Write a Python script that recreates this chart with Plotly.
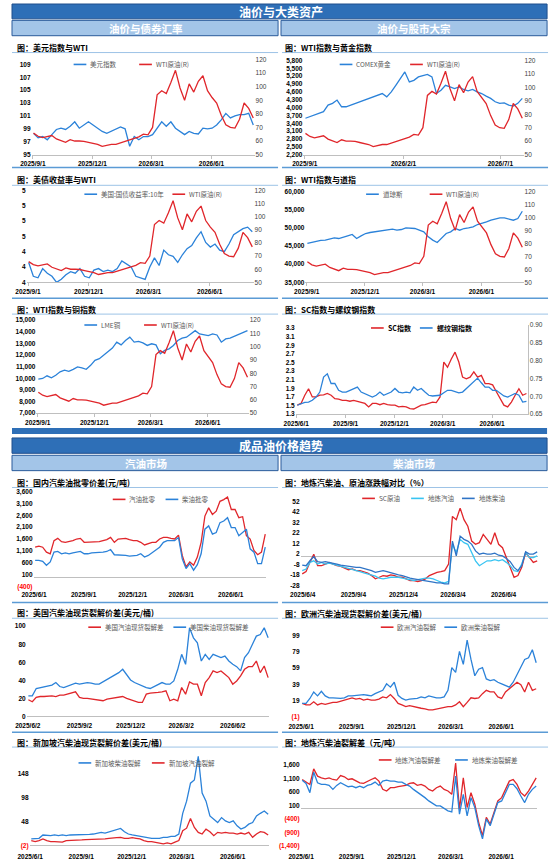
import pandas as pd
import plotly.graph_objects as go

W, H = 550, 866

RED = '#E0262B'
BLUE = '#2B82D9'
CYAN = '#38C4F2'
BLUE2 = '#2F74C6'
DARK = '#2E6FB7'
LIGHT = '#A3C5E8'
GREY = '#BFBFBF'
SEP = '#5B9BD5'

# 周度日期
dates_a = pd.date_range('2025-09-02', periods=49, freq='7D')   # 油价与大类资产
dates_b = pd.date_range('2025-06-03', periods=62, freq='7D')   # 成品油 / SC指数

# ---- 油价与大类资产 ----
wti = [65.8, 63.5, 62.5, 63.5, 64.0, 61.5, 60.0, 59.0, 61.0, 60.0, 60.0, 59.8, 59.0, 58.5, 57.5, 56.0,
       57.0, 57.5, 57.5, 58.5, 60.0, 61.0, 62.0, 63.0, 65.0, 64.5, 70.0, 94.0, 97.0, 95.0, 103.0, 112.0,
       99.0, 90.0, 102.0, 96.0, 104.0, 108.0, 97.0, 92.0, 88.0, 79.0, 72.0, 70.0, 69.5, 76.0, 88.0, 84.0, 77.0]
dxy = [98.3, 97.6, 97.8, 97.3, 98.1, 98.9, 99.1, 98.9, 99.4, 100.1, 99.1, 99.6, 100.1, 99.6, 99.1, 98.6,
       98.3, 98.6, 98.9, 99.3, 99.0, 96.3, 97.8, 97.3, 97.8, 97.8, 98.1, 99.1, 100.1, 99.4, 100.1, 99.1,
       98.6, 98.1, 98.6, 98.3, 98.2, 99.1, 99.0, 99.1, 99.6, 100.4, 101.4, 100.7, 101.0, 101.2, 101.2, 101.4, 99.6]
gold = [3590, 3650, 3715, 3780, 3840, 4095, 4160, 4285, 4030, 4030, 4095, 4160, 4220, 4285, 4350, 4410,
        4475, 4535, 4410, 4600, 4850, 5105, 5360, 4980, 5040, 5170, 5230, 5270, 5170, 4535, 4660, 4850,
        4790, 4725, 4790, 4690, 4640, 4690, 4600, 4535, 4435, 4350, 4220, 4160, 4180, 4095, 4055, 4160, 4350]
ust10y = [4.33, 4.24, 4.23, 4.29, 4.26, 4.24, 4.20, 4.22, 4.25, 4.27, 4.26, 4.29, 4.24, 4.23, 4.28, 4.29,
          4.27, 4.28, 4.27, 4.29, 4.34, 4.32, 4.30, 4.24, 4.23, 4.22, 4.30, 4.36, 4.31, 4.41, 4.38, 4.37,
          4.33, 4.38, 4.42, 4.44, 4.49, 4.53, 4.46, 4.43, 4.45, 4.41, 4.40, 4.45, 4.51, 4.53, 4.55, 4.56, 4.53]
dow = [45680, 45950, 46300, 46500, 46590, 46860, 47230, 47040, 47500, 47770, 48140, 47040, 47770, 48410,
       48690, 48870, 49050, 49320, 49320, 49600, 49320, 49510, 49960, 49960, 49780, 49320, 48870, 47500,
       46590, 45950, 47040, 48410, 48870, 49780, 49320, 49780, 49960, 50240, 50880, 51150, 51600, 52060,
       52340, 52700, 52700, 52340, 52060, 52520, 54520]
lme_cu = [9920, 9980, 10210, 10040, 10260, 10550, 10690, 10600, 10770, 10970, 10890, 10770, 11110, 11540,
          11680, 11970, 12250, 12590, 13100, 12870, 13240, 13530, 13100, 13160, 13040, 12820, 12960, 12870,
          12110, 12390, 12530, 12820, 13240, 13440, 13530, 13810, 14090, 13810, 13720, 13670, 13810, 13720,
          13100, 13380, 13440, 13610, 13720, 13890, 14090]
sc_idx = [1.51, 1.55, 1.74, 1.89, 1.70, 1.70, 1.74, 1.75, 1.78, 1.74, 1.66, 1.65, 1.62, 1.62, 1.60, 1.62,
          1.60, 1.58, 1.55, 1.47, 1.55, 1.55, 1.52, 1.55, 1.52, 1.51, 1.51, 1.47, 1.48, 1.47, 1.43, 1.42,
          1.47, 1.51, 1.52, 1.55, 1.58, 1.57, 1.70, 2.51, 2.39, 2.58, 2.74, 2.51, 2.16, 2.12, 2.16, 2.28,
          2.16, 2.20, 2.01, 2.01, 1.98, 1.82, 1.66, 1.51, 1.47, 1.58, 1.74, 1.89, 1.74, 1.78]
rebar_idx = [0.675, 0.680, 0.683, 0.684, 0.689, 0.698, 0.712, 0.754, 0.763, 0.736, 0.736, 0.717, 0.712,
             0.712, 0.717, 0.722, 0.726, 0.712, 0.708, 0.703, 0.698, 0.703, 0.712, 0.703, 0.708, 0.712,
             0.722, 0.712, 0.710, 0.712, 0.710, 0.726, 0.717, 0.722, 0.712, 0.703, 0.701, 0.703, 0.703,
             0.710, 0.717, 0.717, 0.714, 0.710, 0.712, 0.722, 0.731, 0.740, 0.751, 0.738, 0.726, 0.726,
             0.717, 0.717, 0.708, 0.701, 0.698, 0.703, 0.708, 0.703, 0.684, 0.686]

# ---- 成品油价格趋势 ----
gas_margin = [1255, 1296, 1255, 1048, 979, 1531, 1627, 1490, 1462, 1490, 1531, 1600, 1627, 1462, 1462, 1490,
              1490, 1490, 1531, 1572, 1669, 1462, 1600, 1627, 1627, 1572, 1531, 1531, 1462, 1351, 1393, 1462,
              1462, 1600, 1669, 1669, 1627, 1600, 1765, 910, 427, 634, 496, 841, 1462, 2565, 2910, 2634,
              2772, 3186, 3255, 3365, 2841, 2841, 2496, 2537, 1738, 1600, 1117, 938, 1048, 1806]
diesel_margin = [703, 703, 662, 496, 634, 1048, 1076, 979, 1020, 979, 1020, 1048, 1076, 979, 979, 1020,
                 1020, 1020, 1048, 1076, 1158, 938, 938, 910, 910, 883, 883, 910, 979, 841, 910, 1020,
                 1117, 1255, 1462, 1531, 1531, 1531, 1669, 772, 358, 565, 290, 524, 979, 2013, 2151, 1806,
                 1875, 2289, 2358, 2496, 2082, 2082, 1738, 1875, 2013, 1186, 1048, 565, 565, 1255]
sc_chg = [-17, -14.8, -6, 1.8, -9.2, -9.2, -7.6, -6, -7.6, -9.2, -9.8, -11.7, -13, -12.3, -13.9, -13.9,
          -14.8, -16.1, -18.6, -21.7, -20.2, -18.6, -19.2, -18, -18.6, -20.2, -20.2, -21.7, -23.3, -23.3,
          -24.2, -23.3, -21.7, -18.6, -17, -15.5, -14.8, -13.9, -7.6, 37.8, 34.7, 45.7, 34.7, 28.4, 14.3,
          11.2, 12.8, 20.6, 15.9, 11.2, 22.2, 11.2, 8, -1.4, -12.3, -20.2, -18.6, -10.8, 3.3, -1.4, -6, -4.5]
gas_chg = [-13.9, -12.3, -6, -4.5, -7.6, -6, -7.6, -6.7, -7.6, -8.6, -9.2, -10.8, -11.7, -12.3, -13.9,
           -14.8, -16.1, -17, -18, -19.2, -21.1, -21.7, -21.1, -20.2, -20.2, -20.2, -21.1, -21.7, -22.4,
           -23.3, -22.4, -21.7, -21.1, -21.1, -21.7, -23.3, -24.9, -25.5, -24.2, 11.2, 3.3, 15.9, 12.8,
           11.2, 3.3, -4.5, -9.2, -6.7, -4.5, -4.5, -3.5, -4.5, -3.5, -6, -9.2, -13.9, -14.8, -7.6, 3.3,
           -1.4, -1.4, 0.2]
diesel_chg = [-8.6, -9.2, -4.5, -0.4, -5.4, -6, -5.4, -6, -6.7, -7.6, -8.6, -9.2, -9.8, -9.8, -10.8, -10.8,
              -11.7, -12.3, -13.9, -15.5, -14.8, -13.9, -14.8, -16.1, -17, -18, -18.6, -20.2, -21.1, -21.7,
              -22.4, -23.3, -24.2, -24.9, -24.9, -25.5, -25.5, -26.4, -26.4, 14.3, 0.2, 19, 15.9, 14.3,
              11.2, 4.9, 1.8, 2.7, 1.8, 1.8, 2.7, 0.8, 0.2, -2.3, -5.4, -10.8, -13.9, -9.2, 4, 1.8, 1.8, 4]
us_gas = [18.4, 16.2, 21, 22, 22, 22.8, 22.8, 22, 23.5, 23.5, 24.6, 25.7, 27.2, 21, 19.9, 19.9, 19.1, 18.4,
          17.3, 17.3, 19.1, 19.9, 21, 21, 22, 19.9, 18.4, 17.3, 15.4, 15.4, 24.6, 25.7, 26.5, 26.5, 27.2,
          28.3, 17.3, 19.1, 17.3, 32, 24.6, 38.2, 35.7, 35.7, 22.8, 37.5, 43, 50.4, 48.5, 50.4, 46.7, 43,
          35.7, 39.3, 44.9, 52.2, 55.1, 55.1, 61.4, 48.5, 55.9, 43]
us_diesel = [22.8, 22.8, 30.9, 32, 33.1, 33.8, 34.6, 37.5, 33.1, 32, 33.8, 35.7, 36.8, 35.7, 36.8, 37.5,
             36.8, 35.7, 35.7, 38.2, 40.4, 43, 45.6, 48.5, 52.2, 45.6, 40.4, 37.5, 35.7, 33.1, 32, 30.9,
             33.1, 35.7, 37.5, 35.7, 35.7, 39.3, 52.2, 68.8, 57.7, 98.2, 87.1, 81.6, 61.4, 68.8, 63.2, 68.8,
             66.9, 65.1, 66.9, 61.4, 57.7, 55.1, 50.4, 65.1, 70.6, 79.8, 89, 90.8, 98.2, 87.1]
eu_gas = [15.2, 13.2, 13.2, 17.2, 13.2, 15.2, 14, 15.2, 16.4, 16.4, 18, 19.2, 21.3, 22.1, 20.5, 21.3, 19.2,
          20.5, 19.2, 19.2, 20.5, 23.3, 22.1, 26.1, 21.3, 15.2, 13.2, 11.1, 12.4, 11.1, 9.9, 9.1, 8.3, 7.1,
          7.1, 8.3, 9.1, 9.9, 11.1, 11.1, 13.2, 17.2, 11.1, 16.4, 22.1, 21.3, 22.1, 27.3, 31.4, 29.4, 29.4,
          23.3, 21.3, 29.4, 33.4, 37.5, 41.5, 38.3, 29.4, 41.5, 31.4, 33.4]
eu_diesel = [15.2, 15.2, 21.3, 29.4, 24.5, 30.2, 24.5, 22.1, 22.1, 21.3, 21.3, 22.1, 24.5, 24.5, 25.3, 26.1,
             26.1, 25.3, 24.5, 27.3, 29.4, 31.4, 39.5, 35.4, 41.5, 25.3, 21.3, 19.2, 20.5, 20.5, 21.3, 23.3,
             22.1, 24.5, 23.3, 22.1, 22.1, 23.3, 31.4, 59.7, 53.7, 80, 63.8, 94.1, 69.9, 49.6, 57.7, 59.7,
             45.6, 43.5, 44.7, 41.5, 39.5, 37.5, 35.4, 41.5, 51.6, 59.7, 69.9, 71.9, 82, 65.8]
sg_diesel = [12.9, 12.9, 14.2, 21, 19.6, 19.6, 21, 19.6, 21, 19.6, 21, 21, 22.3, 21, 22.3, 22.3, 23, 25,
             26.4, 25, 27.7, 29.8, 31.8, 34.5, 27.7, 23, 21, 19.6, 18.3, 16.2, 16.2, 14.2, 14.2, 14.2, 16.2,
             16.2, 18.3, 18.3, 23, 65.6, 90.6, 127.7, 134.5, 183.1, 107.5, 90.6, 60.2, 53.4, 46.6, 56.8, 50,
             46.6, 50, 39.9, 33.1, 36.5, 43.3, 46.6, 60.2, 65.6, 70.3, 63.5]
sg_gas = [9.5, 7.5, 9.5, 12.9, 9.5, 7.5, 7.5, 7.5, 6.1, 9.5, 9.5, 9.5, 10.2, 10.8, 11.5, 11.5, 11.5, 12.9,
          12.9, 12.9, 14.2, 14.2, 15.6, 16.2, 14.2, 14.2, 15.6, 14.2, 12.9, 9.5, 7.5, 7.5, 6.1, 4.8, 2.7,
          4.8, 2.7, 6.1, 9.5, 29.8, 35, 55, 36.5, 26.4, 23, 33.1, 27.7, 19.6, 26.4, 25, 26.4, 25, 25, 23,
          25, 23, 26.4, 16.2, 23, 27.7, 26.4, 21]
dl_gas = [1054, 957, 872, 1443, 1176, 1115, 1079, 1115, 1054, 1030, 1200, 1152, 1054, 1079, 994, 933, 909,
          994, 1054, 1115, 994, 690, 629, 751, 751, 787, 811, 836, 909, 933, 836, 872, 811, 690, 629, 751,
          811, 690, 629, 508, 1662, -39, 1115, 22, 568, 143, -525, -1011, -343, -586, -161, 265, 386, 690,
          994, 1054, 872, 568, 447, 629, 872, 1115]
dl_diesel = [1030, 909, 568, 1322, 933, 872, 872, 836, 690, 836, 933, 872, 787, 811, 751, 811, 751, 836,
             872, 957, 836, 994, 1030, 994, 994, 957, 957, 872, 811, 690, 593, 508, 386, 265, 180, 82, 82,
             -15, -100, -136, 1176, -221, 508, -282, 386, 22, -647, -1133, -404, -647, -221, 204, 265, 593,
             872, 872, 714, 447, 204, 508, 690, 811]

# ---- 刻度 ----
x_ticks_a = ['2025-09-01', '2025-12-01', '2026-03-01', '2026-06-01']
x_text_a = ['2025/9/1', '2025/12/1', '2026/3/1', '2026/6/1']
x_ticks_gold = ['2025-09-01', '2026-02-01', '2026-07-01']
x_text_gold = ['2025/9/1', '2026/2/1', '2026/7/1']
x_ticks_b = ['2025-06-01', '2025-09-01', '2025-12-01', '2026-03-01', '2026-06-01']
x_text_b = ['2025/6/1', '2025/9/1', '2025/12/1', '2026/3/1', '2026/6/1']
x_ticks_b4 = ['2025-06-04', '2025-09-04', '2025-12-04', '2026-03-04', '2026-06-04']
x_text_b4 = ['2025/6/4', '2025/9/4', '2025/12/4', '2026/3/4', '2026/6/4']
x_ticks_b2 = ['2025-06-02', '2025-09-02', '2025-12-02', '2026-03-02', '2026-06-02']
x_text_b2 = ['2025/6/2', '2025/9/2', '2025/12/2', '2026/3/2', '2026/6/2']

wti_ticks = [50, 60, 70, 80, 90, 100, 110, 120]
dxy_ticks = [95, 97, 99, 101, 103, 105, 107, 109]
gold_ticks = [2200, 2500, 2800, 3100, 3400, 3700, 4000, 4300, 4600, 4900, 5200, 5500, 5800]
gold_text = ['2,200', '2,500', '2,800', '3,100', '3,400', '3,700', '4,000', '4,300', '4,600', '4,900',
             '5,200', '5,500', '5,800']
ust_ticks = [4.2, 4.3, 4.4, 4.5, 4.6, 4.7, 4.8]
ust_text = ['4', '4', '4', '5', '5', '5', '5']
dow_ticks = [35000, 40000, 45000, 50000, 55000, 60000]
dow_text = ['35,000', '40,000', '45,000', '50,000', '55,000', '60,000']
cu_ticks = [7000, 8000, 9000, 10000, 11000, 12000, 13000, 14000, 15000]
cu_text = ['7,000', '8,000', '9,000', '10,000', '11,000', '12,000', '13,000', '14,000', '15,000']
sc_ticks = [1.3, 1.5, 1.7, 1.9, 2.1, 2.3, 2.5, 2.7, 2.9, 3.1, 3.3]
sc_text = ['1.3', '1.5', '1.7', '1.9', '2.1', '2.3', '2.5', '2.7', '2.9', '3.1', '3.3']
rebar_ticks = [0.65, 0.70, 0.75, 0.80, 0.85, 0.90]
rebar_text = ['0.65', '0.70', '0.75', '0.80', '0.85', '0.90']
margin_ticks = [-400, 100, 600, 1100, 1600, 2100, 2600, 3100, 3600]
margin_text = ['(400)', '100', '600', '1,100', '1,600', '2,100', '2,600', '3,100', '3,600']
chg_ticks = [-28, -18, -8, 2, 12, 22, 32, 42, 52]
us_ticks = [0, 20, 40, 60, 80, 100]
eu_ticks = [-1, 19, 39, 59, 79, 99]
eu_text = ['(1)', '19', '39', '59', '79', '99']
sg_ticks = [-2, 48, 98, 148]
sg_text = ['(2)', '48', '98', '148']
dl_ticks = [-1400, -900, -400, 100, 600, 1100, 1600]
dl_text = ['(1,400)', '(900)', '(400)', '100', '600', '1,100', '1,600']


def fx(p):
    return p / W


def fy(p):
    return 1 - p / H


def red_neg(texts):
    return ['<span style="color:#FF0000">%s</span>' % t if t.startswith('(') else t for t in texts]


TICK_FONT = dict(family='Liberation Sans, Noto Sans CJK SC', size=6.5, color='#000000', weight='bold')
RIGHT_FONT = dict(family='Liberation Sans, Noto Sans CJK SC', size=6.5, color='#404040')
CJK = 'Noto Sans CJK SC'

wti_right = dict(range=[50, 120], ticks=wti_ticks, text=[str(v) for v in wti_ticks])

panels = [
    dict(title='图：美元指数与WTI', tx=3, ty=44, box=(20, 248, 56, 152), dates=dates_a,
         xt=(x_ticks_a, x_text_a), xline=True,
         left=dict(range=[95, 109.77], ticks=dxy_ticks, text=[str(v) for v in dxy_ticks]),
         right=wti_right,
         series=[('美元指数', dxy, BLUE, 'L'), ('WTI原油(R)', wti, RED, 'R')],
         legend=(61, [63, 130])),
    dict(title='图：WTI指数与黄金指数', tx=277, ty=44, box=(298, 523, 57, 152), dates=dates_a,
         xt=(x_ticks_gold, x_text_gold), xline=True,
         left=dict(range=[2200, 5800], ticks=gold_ticks, text=gold_text),
         right=wti_right,
         series=[('COMEX黄金', gold, BLUE, 'L'), ('WTI原油(R)', wti, RED, 'R')],
         legend=(61, [335, 407])),
    dict(title='图：美债收益率与WTI', tx=3, ty=177, box=(15, 247, 188, 281), dates=dates_a,
         xt=(x_ticks_a, x_text_a), xline=True,
         left=dict(range=[4.2, 4.8], ticks=ust_ticks, text=ust_text),
         right=wti_right,
         series=[('美国:国债收益率:10年', ust10y, BLUE, 'L'), ('WTI原油(R)', wti, RED, 'R')],
         legend=(192, [74, 164])),
    dict(title='图：WTI指数与道指', tx=277, ty=177, box=(300, 523, 189, 281), dates=dates_a,
         xt=(x_ticks_a, x_text_a), xline=True,
         left=dict(range=[35000, 60000], ticks=dow_ticks, text=dow_text),
         right=wti_right,
         series=[('道琼斯', dow, BLUE, 'L'), ('WTI原油(R)', wti, RED, 'R')],
         legend=(192, [362, 427])),
    dict(title='图：WTI指数与铜指数', tx=3, ty=308, box=(25, 242, 319, 413), dates=dates_a,
         xt=(x_ticks_a, x_text_a), xline=True,
         left=dict(range=[7000, 15000], ticks=cu_ticks, text=cu_text),
         right=wti_right,
         series=[('LME铜', lme_cu, BLUE, 'L'), ('WTI原油(R)', wti, RED, 'R')],
         legend=(324, [74, 135])),
    dict(title='图：SC指数与螺纹钢指数', tx=277, ty=308, box=(290, 527, 324, 414), dates=dates_b,
         xt=(x_ticks_b, x_text_b), xline=True, rline=True,
         left=dict(range=[1.3, 3.37], ticks=sc_ticks, text=sc_text),
         right=dict(range=[0.65, 0.90], ticks=rebar_ticks, text=rebar_text),
         series=[('SC指数', sc_idx, RED, 'L'), ('螺纹钢指数', rebar_idx, BLUE, 'R')],
         legend=(327, [367, 417]), legend_dark=True),
    dict(title='图：国内汽柴油批零价差(元/吨)', tx=3, ty=483, box=(22, 260, 492, 588), dates=dates_b,
         xt=(x_ticks_b, x_text_b), zero=True, standoff=3,
         left=dict(range=[-400, 3600], ticks=margin_ticks, text=margin_text),
         series=[('汽油批零', gas_margin, RED, 'L'), ('柴油批零', diesel_margin, BLUE, 'L')],
         legend=(500, [103, 157])),
    dict(title='图：地炼汽柴油、原油涨跌幅对比（%）', tx=277, ty=483, box=(295, 538, 500, 589),
         dates=dates_b, xt=(x_ticks_b4, x_text_b4), zero=True, standoff=2,
         left=dict(range=[-30, 54], ticks=chg_ticks, text=[str(v) for v in chg_ticks]),
         series=[('SC原油', sc_chg, RED, 'L'), ('地炼汽油', gas_chg, CYAN, 'L'),
                 ('地炼柴油', diesel_chg, BLUE2, 'L')],
         legend=(499, [358, 408, 460])),
    dict(title='图：美国汽柴油现货裂解价差(美元/桶)', tx=3, ty=614, box=(15, 263, 628, 719), dates=dates_b,
         xt=(x_ticks_b2, x_text_b2), zero=True, standoff=4,
         left=dict(range=[0, 100], ticks=us_ticks, text=[str(v) for v in us_ticks]),
         series=[('美国汽油现货裂解差', us_gas, RED, 'L'), ('美国柴油现货裂解差', us_diesel, BLUE, 'L')],
         legend=(629, [78, 165])),
    dict(title='图：欧洲汽柴油现货裂解价差(美元/桶)', tx=277, ty=615, box=(295, 537, 638, 719),
         dates=dates_b, xt=(x_ticks_b, x_text_b), zero=False, standoff=5,
         left=dict(range=[-1, 99], ticks=eu_ticks, text=eu_text),
         series=[('欧洲汽油裂解', eu_gas, RED, 'L'), ('欧洲柴油裂解', eu_diesel, BLUE, 'L')],
         legend=(629, [377, 442])),
    dict(title='图：新加坡汽柴油现货裂解价差(美元/桶)', tx=3, ty=745, box=(18, 263, 752, 850),
         dates=dates_b, xt=(x_ticks_b, x_text_b), zero=True, standoff=5,
         left=dict(range=[-2, 198], ticks=sg_ticks, text=sg_text),
         series=[('新加坡柴油裂解', sg_diesel, BLUE, 'L'), ('新加坡汽油裂解', sg_gas, RED, 'L')],
         legend=(766, [68, 143])),
    dict(title='图：地炼汽柴油裂解差（元/吨）', tx=277, ty=745, box=(295, 537, 765, 850), dates=dates_b,
         xt=(x_ticks_b, x_text_b), zero=True, standoff=5,
         left=dict(range=[-1400, 1700], ticks=dl_ticks, text=dl_text),
         series=[('地炼汽油裂解差', dl_gas, RED, 'L'), ('地炼柴油裂解差', dl_diesel, BLUE, 'L')],
         legend=(763, [375, 453])),
]

fig = go.Figure()
layout = dict(width=W, height=H, margin=dict(l=0, r=0, t=0, b=0), paper_bgcolor='white',
              plot_bgcolor='rgba(0,0,0,0)', showlegend=False, font=dict(family=CJK))
shapes = []
annotations = []

for i, p in enumerate(panels, start=1):
    x0, x1, y0, y1 = p['box']
    sx = '' if i == 1 else str(i)
    rid = str(12 + i)
    dates = p['dates']
    layout['xaxis' + sx] = dict(
        domain=[fx(x0), fx(x1)], anchor='y' + sx,
        range=[dates[0] - pd.Timedelta(days=3), dates[-1] + pd.Timedelta(days=2)],
        tickvals=p['xt'][0], ticktext=p['xt'][1], tickfont=TICK_FONT, tickangle=0,
        showgrid=False, zeroline=False, ticklabelstandoff=p.get('standoff', 0),
        showline=p.get('xline', False), linecolor=GREY, linewidth=1,
        ticks='outside' if p.get('xline', False) else '', ticklen=3, tickcolor=GREY,
    )
    lt = p['left']
    layout['yaxis' + sx] = dict(
        domain=[fy(y1), fy(y0)], anchor='x' + sx, range=lt['range'],
        tickvals=lt['ticks'], ticktext=red_neg(lt['text']), tickfont=TICK_FONT,
        showgrid=False, ticks='', showline=False,
        zeroline=p.get('zero', False), zerolinecolor=GREY, zerolinewidth=1,
    )
    if 'right' in p:
        rt = p['right']
        layout['yaxis' + rid] = dict(
            domain=[fy(y1), fy(y0)], anchor='x' + sx, overlaying='y' + sx, side='right',
            range=rt['range'], tickvals=rt['ticks'], ticktext=rt['text'], tickfont=RIGHT_FONT,
            showgrid=False, zeroline=False, ticks='',
            showline=p.get('rline', False), linecolor=GREY, linewidth=1,
        )

    ly, lxs = p['legend']
    for (name, vals, color, side), lx in zip(p['series'], lxs):
        fig.add_trace(go.Scatter(
            x=dates, y=vals, mode='lines', name=name,
            line=dict(color=color, width=1.3),
            xaxis='x' + sx, yaxis=('y' + sx) if side == 'L' else ('y' + rid),
            hoverinfo='skip',
        ))
        shapes.append(dict(type='line', xref='paper', yref='paper',
                           x0=fx(lx), x1=fx(lx + 13), y0=fy(ly), y1=fy(ly),
                           line=dict(color=color, width=1.6)))
        dark = p.get('legend_dark', False)
        annotations.append(dict(
            xref='paper', yref='paper', x=fx(lx + 15), y=fy(ly), text=name, showarrow=False,
            xanchor='left', yanchor='middle',
            font=dict(family=CJK, size=7 if dark else 6.5, color='#000000' if dark else '#595959',
                      weight='bold' if dark else 'normal')))

    annotations.append(dict(
        xref='paper', yref='paper', x=fx(p['tx']), y=fy(p['ty']), text=p['title'], showarrow=False,
        xanchor='left', yanchor='middle', font=dict(family=CJK, size=8, color='#000000', weight='bold')))


def rect(x0, y0, x1, y1, fill, line_color=None):
    shapes.append(dict(type='rect', xref='paper', yref='paper', layer='below',
                       x0=fx(x0), x1=fx(x1), y0=fy(y1), y1=fy(y0), fillcolor=fill,
                       line=dict(color=line_color or fill, width=1 if line_color else 0)))


def hline(y, color, width=1):
    for a, b in [(0, 272), (276, 548)]:
        shapes.append(dict(type='line', xref='paper', yref='paper', layer='below',
                           x0=fx(a), x1=fx(b), y0=fy(y), y1=fy(y), line=dict(color=color, width=width)))


def header(text, cx, cy, size):
    annotations.append(dict(xref='paper', yref='paper', x=fx(cx), y=fy(cy), text=text, showarrow=False,
                            xanchor='center', yanchor='middle',
                            font=dict(family=CJK, size=size, color='white', weight='bold')))


# 版块标题栏
rect(0, 0, 547, 15, DARK, '#1F4E8C')
rect(0, 16.5, 272, 32, LIGHT, '#2A5B9A')
rect(275, 16.5, 547, 32, LIGHT, '#2A5B9A')
header('油价与大类资产', 275, 8, 12)
header('油价与债券汇率', 137, 24.5, 10.5)
header('油价与股市大宗', 411, 24.5, 10.5)

rect(0, 428, 547, 434, DARK)
rect(0, 438, 547, 453.5, DARK, '#1F4E8C')
rect(0, 455.5, 272, 471, LIGHT, '#2A5B9A')
rect(275, 455.5, 547, 471, LIGHT, '#2A5B9A')
header('成品油价格趋势', 275, 446, 12)
header('汽油市场', 137, 463.5, 10.5)
header('柴油市场', 411, 463.5, 10.5)

# 分隔线
for y in [165, 297, 604, 735]:
    hline(y, SEP, 1.5)
for y in [49, 183, 313, 488, 620, 750]:
    hline(y, '#9DC3E6', 1)

layout['shapes'] = shapes
layout['annotations'] = annotations
fig.update_layout(**layout)

# 页面默认 body 边距会把图整体挤偏，去掉
fig.write_html('out.html', config={'displayModeBar': False},
               post_script="document.body.style.margin='0px';")
